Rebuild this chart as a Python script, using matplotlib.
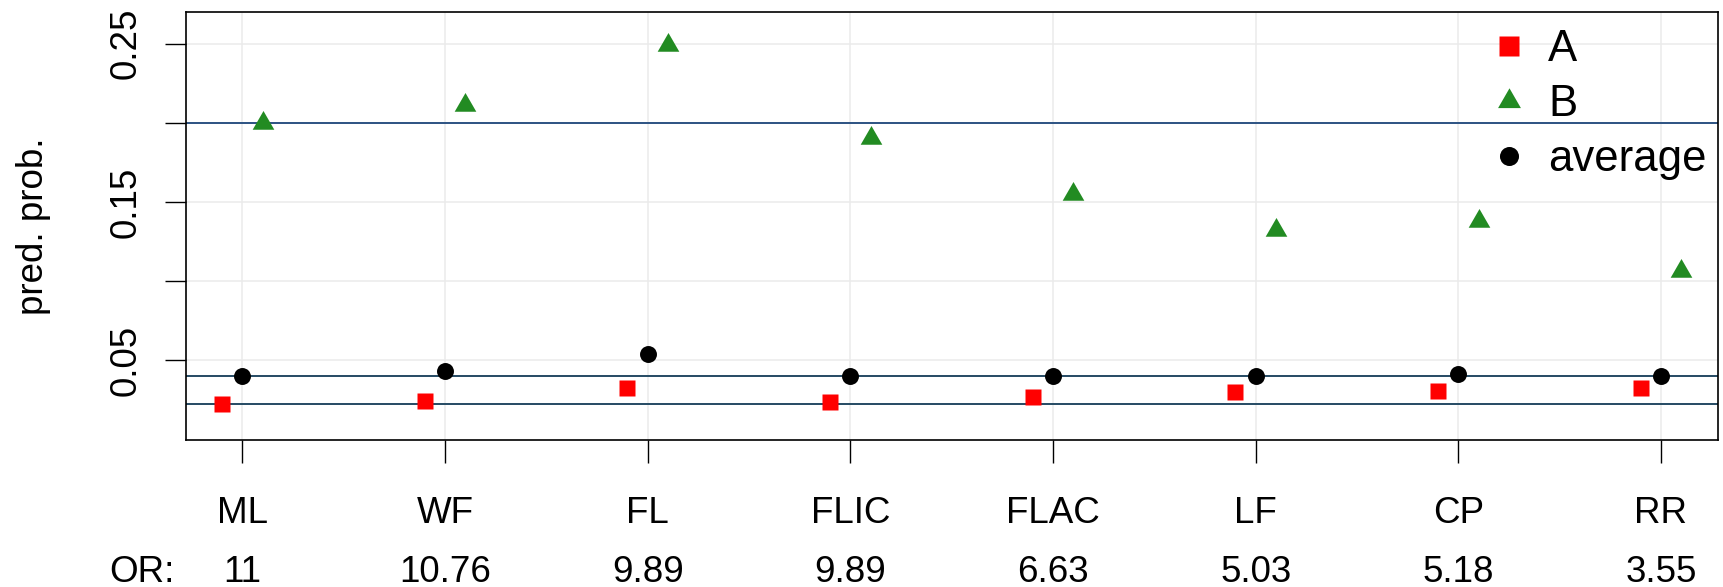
import matplotlib
matplotlib.use("Agg")
import matplotlib.pyplot as plt
from matplotlib.lines import Line2D
from matplotlib.markers import MarkerStyle
import numpy as np

plt.rcParams["font.family"] = ["Liberation Sans", "DejaVu Sans"]

# Data
methods = ["ML", "WF", "FL", "FLIC", "FLAC", "LF", "CP", "RR"]
odds_ratios = ["11", "10.76", "9.89", "9.89", "6.63", "5.03", "5.18", "3.55"]
prob_a = [0.0223, 0.0246, 0.0326, 0.0235, 0.0271, 0.0299, 0.0309, 0.0326]
prob_b = [0.1999, 0.2113, 0.2494, 0.1907, 0.1554, 0.1323, 0.1382, 0.1063]
prob_avg = [0.0404, 0.0435, 0.0542, 0.0404, 0.0404, 0.0404, 0.0417, 0.0404]
ref_b = 0.20
ref_avg = 0.0404
ref_a = 0.0223
y_ticks = [0.05, 0.10, 0.15, 0.20, 0.25]
y_ticklabels = ["0.05", "", "0.15", "", "0.25"]

RED = "#ff0000"
GREEN = "#228b22"

# equilateral triangle centred on its centroid
tri = MarkerStyle([(0, 1.0), (-0.866, -0.5), (0.866, -0.5), (0, 1.0)])

fig = plt.figure(figsize=(17.23, 5.87), dpi=100)
W, H = 1723, 587
left, right, top, bottom = 185.7, 1717.7, 12.0, 439.7
ax = fig.add_axes([left / W, 1 - bottom / H, (right - left) / W, (bottom - top) / H])

x = np.arange(1, len(methods) + 1)

# light grid
for xi in x:
    ax.axvline(xi, color="#ebebeb", lw=1.1, zorder=0)
for yt in y_ticks:
    ax.axhline(yt, color="#ebebeb", lw=1.1, zorder=0)

# reference lines
ax.axhline(ref_b, color="#2c5283", lw=1.4, zorder=1)
ax.axhline(ref_avg, color="#254a63", lw=1.4, zorder=1)
ax.axhline(ref_a, color="#254a63", lw=1.4, zorder=1)

ax.plot(x - 0.1, prob_a, ls="none", marker="s", ms=12, color=RED, mec="none", zorder=3)
ax.plot(x + 0.1, prob_b, ls="none", marker=tri, ms=18, color=GREEN, mec="none", zorder=3)
ax.plot(x, prob_avg, ls="none", marker="o", ms=12.2, color="black", mec="none", zorder=3)

ax.set_xlim(0.72, 8.28)
ax.set_ylim(0.0, 0.27)

ax.set_xticks(x)
ax.set_xticklabels(methods, fontsize=26.5)
ax.set_yticks(y_ticks)
ax.set_yticklabels(y_ticklabels, fontsize=26.5, rotation=90, va="center")
ax.tick_params(axis="x", length=16.5, width=1.0, pad=24)
ax.tick_params(axis="y", length=15.4, width=1.0, pad=15)

for s in ax.spines.values():
    s.set_linewidth(1.2)
    s.set_color("black")

ax.set_ylabel("pred. prob.", fontsize=26.5)
ax.yaxis.set_label_coords((51.5 - left) / (right - left), 0.5)

# odds ratio row under the method names
xform = ax.get_xaxis_transform()
or_y = (bottom - 582) / (bottom - top)
ax.text((141.5 - left) / (right - left), or_y, "OR:", transform=ax.transAxes,
        ha="center", va="baseline", fontsize=26.5)
for xi, orv in zip(x, odds_ratios):
    ax.text(xi, or_y, orv, transform=xform, ha="center", va="baseline", fontsize=26.5)

handles = [
    Line2D([], [], ls="none", marker="s", ms=14.4, color=RED, mec="none"),
    Line2D([], [], ls="none", marker=tri, ms=19, color=GREEN, mec="none"),
    Line2D([], [], ls="none", marker="o", ms=13.7, color="black", mec="none"),
]
ax.legend(handles, ["A", "B", "average"], loc="upper left",
          bbox_to_anchor=((1487 - left) / (right - left), (bottom - 29) / (bottom - top)),
          frameon=False, fontsize=31.5, handlelength=1.0, handletextpad=0.40,
          borderpad=0, borderaxespad=0, labelspacing=0.32)

fig.savefig("out.png", dpi=100)
